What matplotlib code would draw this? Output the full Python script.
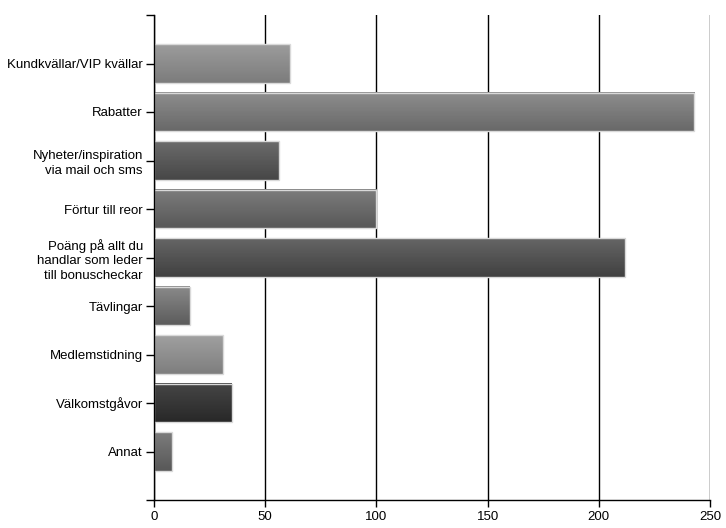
import numpy as np
import matplotlib
matplotlib.use("Agg")
import matplotlib.pyplot as plt
from matplotlib.colors import LinearSegmentedColormap

categories = ["Kundkvällar/VIP kvällar", "Rabatter", "Nyheter/inspiration\nvia mail och sms",
              "Förtur till reor", "Poäng på allt du\nhandlar som leder\ntill bonuscheckar",
              "Tävlingar", "Medlemstidning", "Välkomstgåvor", "Annat"]
values = [61, 243, 56, 100, 212, 16, 31, 35, 8]
top_colors = ["#9c9c9c", "#8e8e8e", "#6c6c6c", "#7c7c7c", "#666666", "#8a8a8a", "#a0a0a0", "#464646", "#7c7c7c"]
bottom_colors = ["#7c7c7c", "#686868", "#464646", "#585858", "#404040", "#5c5c5c", "#7e7e7e", "#282828", "#585858"]
xticks = [0, 50, 100, 150, 200, 250]

plt.rcParams['font.family'] = ['Liberation Sans', 'DejaVu Sans']

fig = plt.figure(figsize=(7.26, 5.28), dpi=100)
ax = fig.add_axes([154/726, 28/528, 556/726, 485/528])

ypos = np.arange(len(categories))
h = 0.8
grad = np.linspace(0, 1, 64).reshape(-1, 1)
for y, v, tc, bc in zip(ypos, values, top_colors, bottom_colors):
    cmap = LinearSegmentedColormap.from_list("g", [tc, bc])
    ax.imshow(grad, cmap=cmap, aspect='auto', extent=[0, v, y + h/2, y - h/2], zorder=3,
              interpolation='bilinear')
    ax.barh(y, v, height=h, facecolor='none', edgecolor='#d9d9d9', linewidth=1.0, zorder=4)

ax.set_xlim(0, 250)
ax.set_ylim(len(categories), -1)
ax.set_xticks(xticks)
ax.set_xticklabels([str(t) for t in xticks], fontsize=9.5)
ax.set_yticks(list(ypos) + [-1, len(categories)])
ax.set_yticklabels(categories + ["", ""], fontsize=9.5, linespacing=1.3)
ax.tick_params(axis='y', length=6, width=1, color='black', pad=2)
ax.tick_params(axis='x', length=5, width=1, color='black', pad=3)

ax.grid(axis='x', color='black', linewidth=1, zorder=1)
ax.set_axisbelow(True)
for s in ['top', 'right']:
    ax.spines[s].set_visible(False)
for s in ['left', 'bottom']:
    ax.spines[s].set_color('black')
    ax.spines[s].set_linewidth(1)
    ax.spines[s].set_zorder(5)

fig.savefig("out.png", dpi=100)
